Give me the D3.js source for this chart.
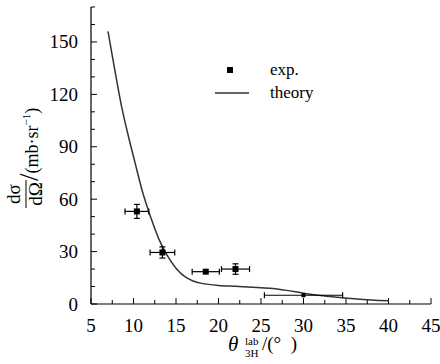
<!DOCTYPE html>
<html>
<head>
<meta charset="utf-8">
<script src="https://cdn.jsdelivr.net/npm/d3@7"></script>
<style>
  body { margin: 0; background: #fff; }
  svg text { font-family: "Liberation Serif", "DejaVu Serif", serif; fill: #000; }
</style>
</head>
<body>
<div id="plot"></div>
<script>
// Experimental points: angle, cross section, and errors
const expAngle = [10.4, 13.4, 18.5, 22.0, 30.0];
const expValue = [53, 29.5, 18.5, 20, 5];
const expAngleErr = [1.4, 1.45, 1.6, 1.65, 4.6];
const expValueErr = [4, 3.2, 1, 3, 0.5];
const expSize = [6, 6, 6, 6, 4];

// Theory curve
const theoryAngle = [7, 7.8, 8.6, 9.4, 10.2, 11.1, 12, 13, 14, 15, 16, 17, 18, 20, 22, 24, 26, 28, 30, 32, 34, 36, 38, 40];
const theoryValue = [156, 134, 113, 96, 80.5, 63.5, 50, 37, 27.5, 20.5, 15.8, 13.2, 11.8, 10.6, 10.1, 9.6, 9, 7.8, 6.2, 4.9, 3.9, 3, 2.3, 1.8];

const xTicks = [5, 10, 15, 20, 25, 30, 35, 40, 45];
const yTicks = [0, 30, 60, 90, 120, 150];

const serif = "'Liberation Serif', 'DejaVu Serif', serif";
const width = 440;
const height = 364;
const margin = { top: 7, right: 9, bottom: 60, left: 91 };

const svg = d3.select("#plot")
  .append("svg")
  .attr("width", width)
  .attr("height", height)
  .attr("font-family", serif);

const x = d3.scaleLinear()
  .domain([5, 45])
  .range([margin.left, width - margin.right]);

const y = d3.scaleLinear()
  .domain([0, 170])
  .range([height - margin.bottom, margin.top]);

// Axes: ticks point inward
const xAxis = svg.append("g")
  .attr("transform", `translate(0,${y(0)})`);
xAxis.append("line")
  .attr("x1", x(5)).attr("x2", x(45))
  .attr("stroke", "#000").attr("stroke-width", 1.2);
xAxis.selectAll(".xt")
  .data(d3.range(5, 45.01, 2.5))
  .enter().append("line")
  .attr("x1", d => x(d)).attr("x2", d => x(d))
  .attr("y1", 0).attr("y2", d => d % 5 === 0 ? -6 : -4)
  .attr("stroke", "#000").attr("stroke-width", 1);
xAxis.selectAll(".xl")
  .data(xTicks)
  .enter().append("text")
  .attr("x", d => x(d))
  .attr("y", 28)
  .attr("text-anchor", "middle")
  .attr("font-family", serif)
  .attr("font-size", "19px")
  .text(d => d);

const yAxis = svg.append("g")
  .attr("transform", `translate(${x(5)},0)`);
yAxis.append("line")
  .attr("y1", y(0)).attr("y2", y(170))
  .attr("stroke", "#000").attr("stroke-width", 1.2);
yAxis.selectAll(".yt")
  .data(d3.range(0, 170.01, 10))
  .enter().append("line")
  .attr("y1", d => y(d)).attr("y2", d => y(d))
  .attr("x1", 0).attr("x2", d => d % 30 === 0 ? 6 : 4)
  .attr("stroke", "#000").attr("stroke-width", 1);
yAxis.selectAll(".yl")
  .data(yTicks)
  .enter().append("text")
  .attr("x", -13)
  .attr("y", d => y(d) + 6.5)
  .attr("text-anchor", "end")
  .attr("font-family", serif)
  .attr("font-size", "19px")
  .text(d => d);

// Theory curve
const line = d3.line()
  .x((d, i) => x(theoryAngle[i]))
  .y(d => y(d))
  .curve(d3.curveCatmullRom);
svg.append("path")
  .datum(theoryValue)
  .attr("d", line)
  .attr("fill", "none")
  .attr("stroke", "#333")
  .attr("stroke-width", 1.5);

// Experimental points with error bars
const pts = svg.selectAll(".pt")
  .data(expAngle.map((a, i) => ({ a, v: expValue[i], ea: expAngleErr[i], ev: expValueErr[i], s: expSize[i] })))
  .enter().append("g");
pts.append("line")
  .attr("x1", d => x(d.a - d.ea)).attr("x2", d => x(d.a + d.ea))
  .attr("y1", d => y(d.v)).attr("y2", d => y(d.v))
  .attr("stroke", "#000").attr("stroke-width", 1.2);
pts.each(function (d) {
  const g = d3.select(this);
  [d.a - d.ea, d.a + d.ea].forEach(e => {
    g.append("line")
      .attr("x1", x(e)).attr("x2", x(e))
      .attr("y1", y(d.v) - 3).attr("y2", y(d.v) + 3)
      .attr("stroke", "#000").attr("stroke-width", 1.2);
  });
  if (d.ev > 1) {
    g.append("line")
      .attr("x1", x(d.a)).attr("x2", x(d.a))
      .attr("y1", y(d.v + d.ev)).attr("y2", y(d.v - d.ev))
      .attr("stroke", "#000").attr("stroke-width", 1.2);
    [d.v + d.ev, d.v - d.ev].forEach(e => {
      g.append("line")
        .attr("x1", x(d.a) - 3).attr("x2", x(d.a) + 3)
        .attr("y1", y(e)).attr("y2", y(e))
        .attr("stroke", "#000").attr("stroke-width", 1.2);
    });
  }
});
pts.append("rect")
  .attr("x", d => x(d.a) - d.s / 2)
  .attr("y", d => y(d.v) - d.s / 2)
  .attr("width", d => d.s)
  .attr("height", d => d.s)
  .attr("fill", "#000");

// Legend
svg.append("rect")
  .attr("x", 227).attr("y", 67).attr("width", 6).attr("height", 6)
  .attr("fill", "#000");
svg.append("text")
  .attr("x", 270).attr("y", 75)
  .attr("font-size", "17px")
  .text("exp.");
svg.append("line")
  .attr("x1", 215).attr("x2", 249)
  .attr("y1", 93).attr("y2", 93)
  .attr("stroke", "#333").attr("stroke-width", 1.5);
svg.append("text")
  .attr("x", 270).attr("y", 98)
  .attr("font-size", "17px")
  .text("theory");

// X label: theta with stacked super/subscript, then unit
svg.append("text")
  .attr("x", 228).attr("y", 351)
  .attr("font-style", "italic")
  .attr("font-size", "21px")
  .text("θ");
svg.append("text")
  .attr("x", 245).attr("y", 345)
  .attr("font-size", "11px")
  .text("lab");
svg.append("text")
  .attr("x", 245).attr("y", 357)
  .attr("font-size", "11px")
  .text("3H");
svg.append("text")
  .attr("x", 262).attr("y", 350)
  .attr("font-size", "19px")
  .attr("xml:space", "preserve")
  .style("white-space", "pre")
  .text("/(°  )");

// Y label, rotated
const yl = svg.append("g")
  .attr("transform", "translate(0,155) rotate(-90)");
yl.append("text")
  .attr("x", -39).attr("y", 20)
  .attr("text-anchor", "middle")
  .attr("font-size", "19px")
  .text("dσ");
yl.append("line")
  .attr("x1", -53).attr("x2", -25)
  .attr("y1", 26).attr("y2", 26)
  .attr("stroke", "#000").attr("stroke-width", 1);
yl.append("text")
  .attr("x", -39).attr("y", 42)
  .attr("text-anchor", "middle")
  .attr("font-size", "19px")
  .text("dΩ");
const ylr = yl.append("text")
  .attr("x", -26).attr("y", 38)
  .attr("font-size", "18px");
ylr.append("tspan").attr("font-size", "27px").text("/");
ylr.append("tspan").text("(mb·sr");
ylr.append("tspan").attr("font-size", "11px").attr("dy", -8).text("−1");
ylr.append("tspan").attr("dy", 8).text(")");
</script>
</body>
</html>
